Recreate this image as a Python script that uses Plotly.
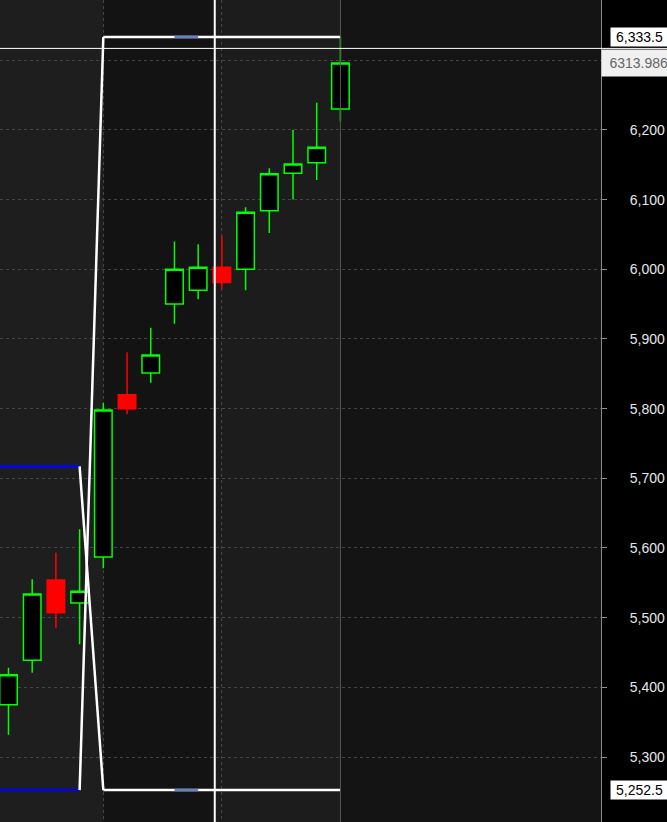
import plotly.graph_objects as go

# ---- data ----
bar_index = list(range(15))
opens  = [5375, 5439, 5554, 5521, 5587, 5820, 5851, 5950, 5970, 6003, 6000, 6084, 6138, 6153, 6230]
highs  = [5428, 5555, 5593, 5627, 5808, 5881, 5916, 6040, 6036, 6048, 6089, 6145, 6200, 6239, 6334]
lows   = [5332, 5421, 5485, 5462, 5571, 5792, 5837, 5922, 5957, 5972, 5970, 6052, 6100, 6128, 6212]
closes = [5418, 5534, 5507, 5538, 5798, 5800, 5877, 6000, 6003, 5981, 6082, 6137, 6151, 6175, 6296]

y_ticks = [5300, 5400, 5500, 5600, 5700, 5800, 5900, 6000, 6100, 6200, 6300]
# the 6,300 label is hidden under the crosshair price box in the reference
y_ticktext = ["5,300", "5,400", "5,500", "5,600", "5,700", "5,800", "5,900", "6,000", "6,100", "6,200", ""]
y_range = [5206.7, 6386.5]
x_range = [-0.358, 24.99]

# range-projection drawing tool
tool_anchor_bar = 3
tool_start_bar = 4
tool_end_bar = 14
prior_high = 5717
range_low = 5252.5
range_high = 6333.5
marker_bars = [7, 8]

# crosshair
cross_bar = 8.7
cross_line_price = 6317
cross_label = "6313.986"
last_bar = 14

# background session bands (start bar, end bar, colour)
band_edges = [x_range[0], 4.02, 8.7, 14.0, x_range[1]]
band_colors = ["#1e1e1e", "#131313", "#1c1c1c", "#141414"]

FONT = "Liberation Sans, Arial, sans-serif"

fig = go.Figure()
fig.add_trace(go.Candlestick(
    x=bar_index, open=opens, high=highs, low=lows, close=closes,
    increasing=dict(line=dict(color="#00ff00", width=1.5), fillcolor="#000000"),
    decreasing=dict(line=dict(color="#ff0000", width=1.5), fillcolor="#ff0000"),
    whiskerwidth=0, showlegend=False, hoverinfo="skip",
))

shapes = []
for i, c in enumerate(band_colors):
    shapes.append(dict(type="rect", xref="x", yref="paper", x0=band_edges[i], x1=band_edges[i + 1],
                       y0=0, y1=1, fillcolor=c, line=dict(width=0), layer="below"))

white = dict(color="#ffffff", width=2.5)
blue = dict(color="#0000ff", width=2.5)
# blue prior range lines
shapes.append(dict(type="line", xref="x", yref="y", x0=x_range[0], x1=tool_anchor_bar,
                   y0=prior_high, y1=prior_high, line=blue))
shapes.append(dict(type="line", xref="x", yref="y", x0=x_range[0], x1=tool_anchor_bar,
                   y0=range_low, y1=range_low, line=blue))
# white projection lines
shapes.append(dict(type="line", xref="x", yref="y", x0=tool_anchor_bar, x1=tool_start_bar,
                   y0=range_low, y1=range_high, line=white))
shapes.append(dict(type="line", xref="x", yref="y", x0=tool_anchor_bar, x1=tool_start_bar,
                   y0=prior_high, y1=range_low, line=white))
shapes.append(dict(type="line", xref="x", yref="y", x0=tool_start_bar, x1=tool_end_bar,
                   y0=range_high, y1=range_high, line=white))
shapes.append(dict(type="line", xref="x", yref="y", x0=tool_start_bar, x1=tool_end_bar,
                   y0=range_low, y1=range_low, line=white))
for lvl in [range_high, range_low]:
    shapes.append(dict(type="line", xref="x", yref="y", x0=marker_bars[0], x1=marker_bars[1],
                       y0=lvl, y1=lvl, line=dict(color="#6482c2", width=2.5)))
# last bar line and crosshair
shapes.append(dict(type="line", xref="x", yref="paper", x0=last_bar, x1=last_bar, y0=0, y1=1,
                   line=dict(color="#555555", width=1)))
shapes.append(dict(type="line", xref="x", yref="paper", x0=cross_bar, x1=cross_bar, y0=0, y1=1,
                   line=dict(color="#ffffff", width=2)))
shapes.append(dict(type="line", xref="paper", yref="y", x0=0, x1=1.12, y0=cross_line_price,
                   y1=cross_line_price, line=dict(color="#ffffff", width=1)))

annotations = [
    dict(xref="paper", yref="y", x=610 / 601, y=range_high, xanchor="left", yanchor="middle",
         text=f"{range_high:,.1f}", showarrow=False, bgcolor="#ffffff", borderpad=0,
         width=57, height=18, align="center", font=dict(family=FONT, size=14, color="#000000")),
    dict(xref="paper", yref="y", x=610 / 601, y=range_low, xanchor="left", yanchor="middle",
         text=f"{range_low:,.1f}", showarrow=False, bgcolor="#ffffff", borderpad=0,
         width=57, height=18, align="center", font=dict(family=FONT, size=14, color="#000000")),
    dict(xref="paper", yref="y", x=1.0, y=cross_line_price, xanchor="left", yanchor="top",
         yshift=-1, text=cross_label, showarrow=False, bgcolor="#f0f0f0", borderpad=0,
         width=66, height=26, align="right", font=dict(family=FONT, size=14, color="#666666")),
]

fig.update_layout(
    width=667, height=822,
    margin=dict(l=0, r=66, t=0, b=0),
    paper_bgcolor="#000000", plot_bgcolor="#141414",
    boxgap=0.26, boxgroupgap=0,
    shapes=shapes, annotations=annotations, showlegend=False,
    xaxis=dict(range=x_range, rangeslider=dict(visible=False), tickvals=[4, 9, 14],
               showticklabels=False, showgrid=True, gridcolor="#454545", griddash="dot",
               gridwidth=1, zeroline=False, showline=False, ticks=""),
    yaxis=dict(range=y_range, side="right", tickvals=y_ticks, ticktext=y_ticktext,
               showgrid=True, gridcolor="#454545", griddash="dot", gridwidth=1,
               zeroline=False, showline=True, linecolor="#8a8a8a", linewidth=1,
               ticks="outside", ticklen=5, tickcolor="#8a8a8a", ticklabelstandoff=20,
               tickfont=dict(family=FONT, size=14, color="#e6e6e6")),
)

fig.write_html("out.html", config={"displayModeBar": False},
               post_script="document.body.style.margin='0';document.body.style.overflow='hidden';")
